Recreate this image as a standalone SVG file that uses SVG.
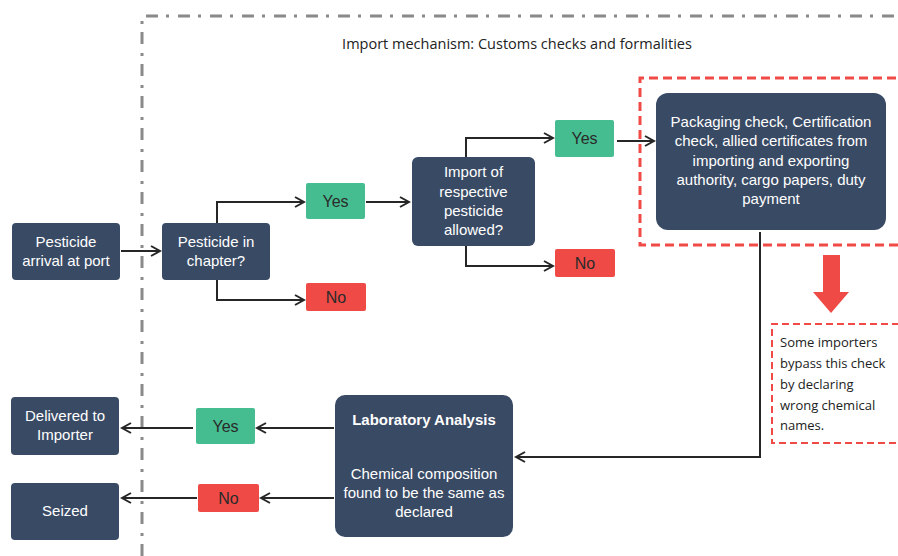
<svg xmlns="http://www.w3.org/2000/svg" width="898" height="556" viewBox="0 0 898 556">
  <defs>
    <marker id="arrow" viewBox="0 0 12 12" refX="10" refY="6" markerWidth="12" markerHeight="12" markerUnits="userSpaceOnUse" orient="auto">
      <path d="M1,1 L10,6 L1,11" fill="none" stroke="#262626" stroke-width="2"/>
    </marker>
    <style>
      .box { fill: #394A64; }
      .yes { fill: #46BD91; }
      .no { fill: #F04A47; }
      .t { font-family: "Liberation Sans", Arial, sans-serif; font-size: 15px; fill: #ffffff; text-anchor: middle; }
      .lbl { font-family: "Liberation Sans", Arial, sans-serif; font-size: 16px; fill: #2a2a2a; text-anchor: middle; }
      .note { font-family: "Open Sans", "Liberation Sans", sans-serif; font-size: 13px; fill: #222; }
      .title { font-family: "Open Sans", "Liberation Sans", sans-serif; font-size: 14.5px; fill: #222; text-anchor: middle; }
      .conn { fill: none; stroke: #262626; stroke-width: 2; }
    </style>
  </defs>

  <rect width="898" height="556" fill="#ffffff"/>

  <!-- customs boundary -->
  <path d="M142,556 L142,16 L910,16" fill="none" stroke="#8a8a8a" stroke-width="3" stroke-dasharray="12 8 3 9"/>
  <text class="title" x="517" y="49">Import mechanism: Customs checks and formalities</text>

  <!-- highlighted check zone -->
  <path d="M910,78 L640,78 L640,245 L910,245" fill="none" stroke="#F04A47" stroke-width="3" stroke-dasharray="9 5"/>

  <!-- connectors -->
  <g id="connectors">
    <path class="conn" d="M121,251 L160,251" marker-end="url(#arrow)"/>
    <path class="conn" d="M217,223 L217,202 L304,202" marker-end="url(#arrow)"/>
    <path class="conn" d="M217,280 L217,300 L304,300" marker-end="url(#arrow)"/>
    <path class="conn" d="M366,202 L409,202" marker-end="url(#arrow)"/>
    <path class="conn" d="M466,157 L466,138 L553,138" marker-end="url(#arrow)"/>
    <path class="conn" d="M466,246 L466,266 L553,266" marker-end="url(#arrow)"/>
    <path class="conn" d="M617,141 L654,141" marker-end="url(#arrow)"/>
    <path class="conn" d="M760,232 L760,457 L516,457" marker-end="url(#arrow)"/>
    <path class="conn" d="M334,428 L257,428" marker-end="url(#arrow)"/>
    <path class="conn" d="M193,428 L122,428" marker-end="url(#arrow)"/>
    <path class="conn" d="M334,498 L261,498" marker-end="url(#arrow)"/>
    <path class="conn" d="M197,498 L122,498" marker-end="url(#arrow)"/>
  </g>

  <g id="arrival">
    <rect class="box" x="12" y="223" width="108" height="57" rx="4"/>
    <text class="t" x="66" y="247">Pesticide</text>
    <text class="t" x="66" y="266">arrival at port</text>
  </g>

  <g id="in-chapter">
    <rect class="box" x="162" y="223" width="108" height="57" rx="4"/>
    <text class="t" x="216" y="247">Pesticide in</text>
    <text class="t" x="216" y="266">chapter?</text>
  </g>

  <g id="yes-chapter">
    <rect class="yes" x="306" y="183" width="59" height="36" rx="2"/>
    <text class="lbl" x="335.5" y="207">Yes</text>
  </g>

  <g id="no-chapter">
    <rect class="no" x="306" y="283" width="60" height="28" rx="2"/>
    <text class="lbl" x="336" y="303">No</text>
  </g>

  <g id="import-allowed">
    <rect class="box" x="412" y="157" width="123" height="89" rx="6"/>
    <text class="t" x="473.5" y="177">Import of</text>
    <text class="t" x="473.5" y="197">respective</text>
    <text class="t" x="473.5" y="216">pesticide</text>
    <text class="t" x="473.5" y="235">allowed?</text>
  </g>

  <g id="yes-allowed">
    <rect class="yes" x="555" y="120" width="59" height="37" rx="2"/>
    <text class="lbl" x="584.5" y="144">Yes</text>
  </g>

  <g id="no-allowed">
    <rect class="no" x="555" y="249" width="60" height="28" rx="2"/>
    <text class="lbl" x="585" y="269">No</text>
  </g>

  <g id="packaging-check">
    <rect class="box" x="656" y="93" width="230" height="137" rx="12"/>
    <text class="t" x="771" y="127">Packaging check, Certification</text>
    <text class="t" x="771" y="146">check, allied certificates from</text>
    <text class="t" x="771" y="166">importing and exporting</text>
    <text class="t" x="771" y="185">authority, cargo papers, duty</text>
    <text class="t" x="771" y="204">payment</text>
  </g>

  <g id="bypass-note">
    <polygon points="823,255 840,255 840,292 849,292 831,313 813,292 823,292" fill="#F04A47"/>
    <path d="M910,324 L772,324 L772,443 L910,443" fill="none" stroke="#F04A47" stroke-width="2" stroke-dasharray="7 4"/>
    <text class="note" x="780" y="347">Some importers</text>
    <text class="note" x="780" y="368">bypass this check</text>
    <text class="note" x="780" y="389">by declaring</text>
    <text class="note" x="780" y="410">wrong chemical</text>
    <text class="note" x="780" y="430">names.</text>
  </g>

  <g id="lab-analysis">
    <rect class="box" x="335" y="395" width="178" height="142" rx="10"/>
    <text class="t" x="424" y="425" font-weight="bold">Laboratory Analysis</text>
    <text class="t" x="424" y="479">Chemical composition</text>
    <text class="t" x="424" y="498">found to be the same as</text>
    <text class="t" x="424" y="517">declared</text>
  </g>

  <g id="yes-lab">
    <rect class="yes" x="196" y="408" width="59" height="36" rx="2"/>
    <text class="lbl" x="225.5" y="432">Yes</text>
  </g>

  <g id="no-lab">
    <rect class="no" x="198" y="484" width="61" height="28" rx="2"/>
    <text class="lbl" x="228.5" y="504">No</text>
  </g>

  <g id="delivered">
    <rect class="box" x="11" y="397" width="108" height="58" rx="4"/>
    <text class="t" x="65" y="421">Delivered to</text>
    <text class="t" x="65" y="440">Importer</text>
  </g>

  <g id="seized">
    <rect class="box" x="11" y="483" width="108" height="57" rx="4"/>
    <text class="t" x="65" y="516">Seized</text>
  </g>
</svg>
